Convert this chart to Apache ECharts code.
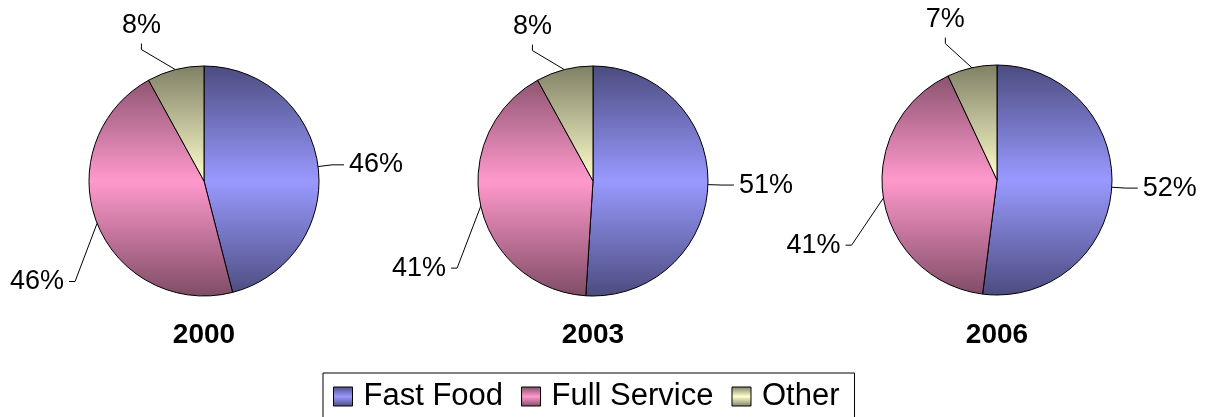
<!DOCTYPE html>
<html>
<head>
<meta charset="utf-8">
<script src="https://cdn.jsdelivr.net/npm/echarts@6/dist/echarts.min.js"></script>
<style>
  html, body { margin: 0; padding: 0; background: #fff; }
  #chart { width: 1211px; height: 417px; }
</style>
</head>
<body>
<div id="chart"></div>
<script>
// Restaurant segment shares by year
const categories = ['Fast Food', 'Full Service', 'Other'];
const years = ['2000', '2003', '2006'];
const share2000 = [46, 46, 8];
const share2003 = [51, 41, 8];
const share2006 = [52, 41, 7];
const yearShares = [share2000, share2003, share2006];

// Base (light) colour and edge (dark) colour of each slice gradient
const baseColors = ['#9999FF', '#FF99CC', '#FFFFCC'];
const edgeColors = ['#4C4C80', '#804C66', '#808066'];

// Pie placement
const pieCenters = [[204, 181], [593, 181], [997, 180]];
const pieRadius = 115;
// Nudges of the percentage labels away from their default outside spot, [dx, dy] per slice
const labelNudges = [
  [[0, 0], [-3, 53], [6, -31]],
  [[0, 0], [-4, 59], [8, -30]],
  [[0, 0], [-12, 45], [13, -35]]
];
const FONT = 'Liberation Sans, Arial, sans-serif';

function pieGradient(i, cy) {
  return {
    type: 'linear', global: true,
    x: 0, y: cy - pieRadius, x2: 0, y2: cy + pieRadius,
    colorStops: [
      { offset: 0, color: edgeColors[i] },
      { offset: 0.5, color: baseColors[i] },
      { offset: 1, color: edgeColors[i] }
    ]
  };
}

function legendGradient(i) {
  return {
    type: 'linear', x: 0, y: 0, x2: 0, y2: 1,
    colorStops: [
      { offset: 0, color: edgeColors[i] },
      { offset: 0.5, color: baseColors[i] },
      { offset: 1, color: edgeColors[i] }
    ]
  };
}

// Moves a label by its nudge and redraws its leader: a straight run from the
// slice edge to a short stub that meets the label's near side.
function layoutLabel(params) {
  const n = labelNudges[params.seriesIndex][params.dataIndex];
  const out = { dx: n[0], dy: n[1], moveOverlap: false, hideOverlap: false };
  if (!n[0] && !n[1]) return out;
  const pts = params.labelLinePoints;
  const r = params.labelRect;
  const x = r.x + n[0], y = r.y + n[1];
  const start = pts[0];
  const gap = 5, stub = 6;
  if (start[1] > y + r.height) {
    // label sits above the slice edge: vertical stub under the label
    const cx = x + r.width / 2, by = y + r.height + gap;
    out.labelLinePoints = [start, [cx, by + stub], [cx, by]];
  } else {
    // label sits to the left: horizontal stub at the label's middle
    const cy = y + r.height / 2, ex = x + r.width + gap;
    out.labelLinePoints = [start, [ex + stub, cy], [ex, cy]];
  }
  return out;
}

const series = years.map((yr, k) => ({
  type: 'pie',
  name: yr,
  center: pieCenters[k],
  radius: [0, pieRadius],
  startAngle: 90,
  clockwise: true,
  animation: false,
  silent: true,
  data: categories.map((c, i) => ({
    name: c,
    value: yearShares[k][i],
    itemStyle: { color: pieGradient(i, pieCenters[k][1]) }
  })),
  itemStyle: { borderColor: '#000', borderWidth: 1 },
  label: {
    show: true,
    position: 'outside',
    formatter: p => p.value + '%',
    color: '#000',
    fontFamily: FONT,
    fontSize: 27
  },
  labelLine: {
    show: true,
    length: 14,
    length2: 12,
    lineStyle: { color: '#000', width: 1 }
  },
  labelLayout: layoutLabel,
  emphasis: { disabled: true }
}));

const titles = years.map((yr, k) => ({
  text: yr,
  left: pieCenters[k][0] - 5,
  top: 316,
  textAlign: 'center',
  textStyle: { fontFamily: FONT, fontSize: 28, fontWeight: 'bold', color: '#000' }
}));

const chart = echarts.init(document.getElementById('chart'), null, { renderer: 'canvas' });
chart.setOption({
  backgroundColor: '#fff',
  animation: false,
  title: titles,
  legend: {
    data: categories.map((c, i) => ({
      name: c,
      itemStyle: { color: legendGradient(i), borderColor: '#000', borderWidth: 1 }
    })),
    left: 323,
    top: 373,
    orient: 'horizontal',
    icon: 'rect',
    itemWidth: 19,
    itemHeight: 19,
    itemGap: 18,
    padding: [8, 15, 10, 10],
    borderColor: '#000',
    borderWidth: 1,
    borderRadius: 0,
    selectedMode: false,
    textStyle: { fontFamily: FONT, fontSize: 31, color: '#000', padding: [0, 0, 0, 6] }
  },
  series: series
});
</script>
</body>
</html>
